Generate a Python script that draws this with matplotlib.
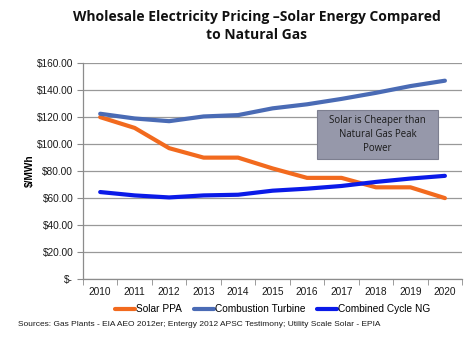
import matplotlib
matplotlib.use("Agg")
import matplotlib.pyplot as plt
import numpy as np
from matplotlib.ticker import FixedLocator
from matplotlib.patches import Rectangle

years = ["2010", "2011", "2012", "2013", "2014", "2015", "2016", "2017", "2018", "2019", "2020"]
solar_ppa = [120, 112, 97, 90, 90, 82, 75, 75, 68, 68, 60]
combustion_turbine = [122.5, 119, 117, 120.5, 121.5, 126.5, 129.5, 133.5, 138, 143, 147]
combined_cycle = [64.5, 62, 60.5, 62, 62.5, 65.5, 67, 69, 72, 74.5, 76.5]
y_ticks = [0, 20, 40, 60, 80, 100, 120, 140, 160]
y_tick_labels = ["$-", "$20.00", "$40.00", "$60.00", "$80.00", "$100.00", "$120.00", "$140.00", "$160.00"]

fig = plt.figure(figsize=(4.74, 3.45), dpi=100)
ax = fig.add_axes([0.175, 0.191, 0.800, 0.626])

x = np.arange(len(years))
ax.plot(x, solar_ppa, color="#F26A1E", lw=3.0, solid_capstyle="round", label="Solar PPA", zorder=3)
ax.plot(x, combustion_turbine, color="#4A6BB5", lw=3.0, solid_capstyle="round", label="Combustion Turbine", zorder=3)
ax.plot(x, combined_cycle, color="#0A1AE8", lw=3.0, solid_capstyle="round", label="Combined Cycle NG", zorder=3)

ax.set_xlim(-0.5, len(years) - 0.5)
ax.set_ylim(0, 160)
ax.set_yticks(y_ticks)
ax.set_yticklabels(y_tick_labels)
ax.set_xticks(x)
ax.set_xticklabels(years)
ax.xaxis.set_minor_locator(FixedLocator(np.arange(-0.5, len(years), 1)))
ax.tick_params(axis="x", which="major", length=0, pad=6)
ax.tick_params(axis="x", which="minor", length=4, color="#8c8c8c", direction="out")
ax.tick_params(axis="y", length=4, color="#8c8c8c", direction="out", pad=3)
for lab in ax.get_xticklabels() + ax.get_yticklabels():
    lab.set_fontfamily("Liberation Sans")
    lab.set_fontsize(7.3)
    lab.set_color("#1a1a1a")

ax.grid(axis="y", color="#999999", lw=0.9)
ax.set_axisbelow(True)
for s in ["top", "right"]:
    ax.spines[s].set_visible(False)
for s in ["left", "bottom"]:
    ax.spines[s].set_color("#8c8c8c")
    ax.spines[s].set_linewidth(0.9)

ax.set_ylabel("$/MWh", fontfamily="Liberation Sans", fontsize=7.3, fontweight="bold", labelpad=1.5)

# Annotation box
box_x0, box_y0, box_w, box_h = 0.669, 0.539, 0.255, 0.142
fig.patches.append(Rectangle((box_x0, box_y0), box_w, box_h, transform=fig.transFigure,
                             fc="#9698AA", ec="#7d7f90", lw=0.8, zorder=5))
fig.text(box_x0 + box_w / 2, box_y0 + box_h / 2, "Solar is Cheaper than\nNatural Gas Peak\nPower",
         ha="center", va="center", fontfamily="Open Sans", fontsize=6.9, color="#1a1a1a",
         linespacing=1.4, zorder=6)

fig.text(0.541, 0.97, "Wholesale Electricity Pricing \u2013Solar Energy Compared\nto Natural Gas",
         ha="center", va="top", fontfamily="Open Sans", fontweight="bold", fontsize=10.0,
         linespacing=1.35, color="#111111")

leg = fig.legend(loc="center", bbox_to_anchor=(0.575, 0.104), ncol=3, frameon=False,
                 prop={"family": "Liberation Sans", "size": 7.3}, handlelength=2.0,
                 handletextpad=0.05, columnspacing=1.2)

fig.text(0.038, 0.058, "Sources: Gas Plants - EIA AEO 2012er; Entergy 2012 APSC Testimony; Utility Scale Solar - EPIA",
         ha="left", va="center", fontfamily="Liberation Sans", fontsize=6.0, color="#1a1a1a")

fig.savefig("out.png", dpi=100)
